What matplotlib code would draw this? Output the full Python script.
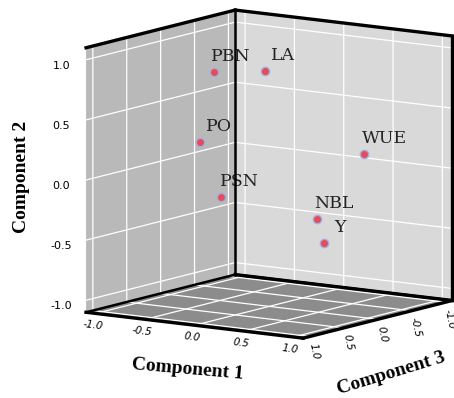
import matplotlib
matplotlib.use("Agg")
import matplotlib.pyplot as plt
from matplotlib.ticker import FormatStrFormatter
from matplotlib.transforms import offset_copy

# component loadings
variables = ["PBN", "LA", "PO", "WUE", "PSN", "NBL", "Y"]
comp1 = [-0.35, 0.10, -0.36, 0.76, -0.08, 0.76, 0.87]
comp2 = [0.855, 0.895, 0.30, 0.20, -0.11, -0.24, -0.42]
comp3 = [0.30, 0.20, 0.50, -0.30, 0.60, 0.40, 0.45]

ticks = [-1.0, -0.5, 0.0, 0.5, 1.0]
lo, hi = -1.1, 1.1

# horizontal nudge of each point label, in pixels
label_dx = [-3, 6, 6, -3, -1, -3, 10]

plt.rcParams['grid.color'] = 'white'
plt.rcParams['grid.linewidth'] = 0.9

fig = plt.figure(figsize=(4.54, 3.98), dpi=100)
ax = fig.add_axes([0.081, 0.049, 1, 1], projection='3d', proj_type='ortho',
                  computed_zorder=False)
ax.view_init(elev=10, azim=34.5)
ax.set_box_aspect((1, 1, 1.02), zoom=1.12)

# x = component 3, y = component 1, z = component 2
ax.set_xlim(lo, hi)
ax.set_ylim(lo, hi)
ax.set_zlim(lo, hi)

ax.xaxis.set_pane_color('#d9d9d9')
ax.yaxis.set_pane_color('#b9b9b9')
ax.zaxis.set_pane_color('#8c8c8c')
for axis in (ax.xaxis, ax.yaxis, ax.zaxis):
    axis.pane.set_edgecolor('none')
    axis.line.set_color('none')
    axis._axinfo['tick']['inward_factor'] = 0
    axis._axinfo['tick']['outward_factor'] = 0
    axis.set_ticks(ticks)
    axis.set_major_formatter(FormatStrFormatter('%.1f'))

ax.tick_params(axis='z', labelsize=8, pad=2)
ax.tick_params(axis='x', pad=-5)
ax.tick_params(axis='y', pad=-5)
for lab in ax.get_xticklabels():
    lab.set_rotation(-78)
    lab.set_fontstyle('italic')
    lab.set_fontsize(7.5)
for lab in ax.get_yticklabels():
    lab.set_rotation(-7)
    lab.set_fontstyle('italic')
    lab.set_fontsize(7.5)

# axis titles
lab_font = dict(family='Liberation Serif', fontweight='bold', fontsize=14,
                ha='center', va='center')
fig.text(188 / 454, 1 - 369 / 398, 'Component 1', rotation=-5, **lab_font)
fig.text(391 / 454, 1 - 373 / 398, 'Component 3', rotation=17, **lab_font)
fig.text(22 / 454, 1 - 177 / 398, 'Component 2', rotation=90, **lab_font)

# black frame of the visible box
outer = [([lo, lo], [hi, hi], [lo, hi]),   # left vertical
         ([lo, lo], [lo, hi], [lo, lo]),   # right vertical
         ([hi, lo], [lo, lo], [hi, hi]),   # top left
         ([lo, lo], [lo, hi], [hi, hi]),   # top right
         ([hi, hi], [lo, hi], [lo, lo]),   # floor front left
         ([hi, lo], [hi, hi], [lo, lo])]   # floor front right
inner = [([lo, lo], [lo, lo], [lo, hi]),   # back vertical
         ([hi, lo], [lo, lo], [lo, lo]),
         ([lo, lo], [lo, hi], [lo, lo])]
for xs, ys, zs in outer:
    ax.plot(xs, ys, zs, color='black', lw=2.4, zorder=5,
            solid_capstyle='projecting')
for xs, ys, zs in inner:
    ax.plot(xs, ys, zs, color='black', lw=1.8, zorder=5)

ax.scatter(comp3, comp1, comp2, s=36, c='#e84a5a', edgecolors='#9fb0e0',
           linewidths=1, depthshade=False, zorder=3)

for name, c1, c2, c3, dx in zip(variables, comp1, comp2, comp3, label_dx):
    txt_trans = offset_copy(ax.transData, fig=fig, x=dx, y=7, units='dots')
    ax.text(c3, c1, c2, name, transform=txt_trans, family='DejaVu Serif',
            fontsize=12.5, color='#222222', ha='left', va='bottom', zorder=4)

fig.savefig('out.png', dpi=100)
